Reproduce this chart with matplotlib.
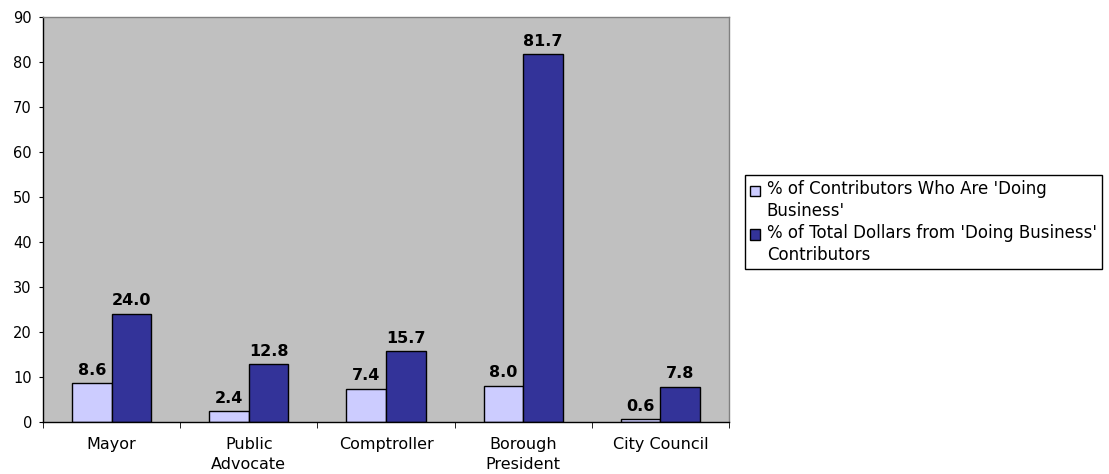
import matplotlib
matplotlib.use("Agg")
import matplotlib.pyplot as plt
from matplotlib.legend_handler import HandlerBase
from matplotlib.patches import Rectangle
import numpy as np

categories = ["Mayor", "Public\nAdvocate", "Comptroller", "Borough\nPresident", "City Council"]
pct_contributors = [8.6, 2.4, 7.4, 8.0, 0.6]
pct_dollars = [24.0, 12.8, 15.7, 81.7, 7.8]
series_names = ["% of Contributors Who Are 'Doing\nBusiness'",
                "% of Total Dollars from 'Doing Business'\nContributors"]
yticks = [0, 10, 20, 30, 40, 50, 60, 70, 80, 90]

plt.rcParams['font.family'] = ['DejaVu Sans']


class UpSquare(HandlerBase):
    """Legend square aligned with the first line of a two-line label."""
    def create_artists(self, legend, orig_handle, xdescent, ydescent, width,
                       height, fontsize, trans):
        r = Rectangle((-xdescent, -ydescent + 0.62 * fontsize), width, height,
                      facecolor=orig_handle.get_facecolor(), edgecolor='black',
                      linewidth=1, transform=trans)
        return [r]


W, H = 1109, 474
fig = plt.figure(figsize=(W / 100, H / 100), dpi=100)
ax = fig.add_axes([43 / W, 1 - 422 / H, (729 - 43) / W, (422 - 16.7) / H])
ax.set_facecolor('#C0C0C0')

x = np.arange(len(categories))
bw = 0.288
b1 = ax.bar(x - bw / 2, pct_contributors, bw, color='#CCCCFF', edgecolor='black', linewidth=1, label=series_names[0])
b2 = ax.bar(x + bw / 2, pct_dollars, bw, color='#333399', edgecolor='black', linewidth=1, label=series_names[1])

for bars, vals in ((b1, pct_contributors), (b2, pct_dollars)):
    for rect, v in zip(bars, vals):
        ax.annotate(f"{v:.1f}", (rect.get_x() + rect.get_width() / 2, v),
                    xytext=(0, 4), textcoords='offset points', ha='center', va='bottom',
                    fontsize=11.5, fontweight='bold', color='black')

ax.set_xlim(-0.5, len(categories) - 0.5)
ax.set_ylim(0, 90)
ax.set_yticks(yticks)
ax.set_yticklabels([str(t) for t in yticks], fontsize=10.5)
ax.set_xticks(x)
ax.set_xticklabels(categories, fontsize=11.5, linespacing=1.4)
ax.tick_params(axis='x', length=0, pad=11)
ax.set_xticks(np.arange(len(categories) + 1) - 0.5, minor=True)
ax.tick_params(axis='x', which='minor', length=4, direction='out', color='black')
ax.tick_params(axis='y', length=3, direction='out', color='black', pad=5)

for s in ('top', 'right'):
    ax.spines[s].set_color('#808080')
    ax.spines[s].set_linewidth(1)
for s in ('left', 'bottom'):
    ax.spines[s].set_color('black')
    ax.spines[s].set_linewidth(1)

leg = fig.legend(handles=[b1[0], b2[0]], labels=series_names, loc='upper left',
                 bbox_to_anchor=(745 / W, 1 - 175 / H), fontsize=12,
                 frameon=True, fancybox=False, edgecolor='black', framealpha=1,
                 handlelength=0.6, handleheight=0.6, handletextpad=0.4,
                 borderpad=0.3, labelspacing=0.2, borderaxespad=0,
                 handler_map={Rectangle: UpSquare()})
leg.get_frame().set_linewidth(1)
for t in leg.get_texts():
    t.set_linespacing(1.3)

fig.savefig("out.png", dpi=100, facecolor='white')
